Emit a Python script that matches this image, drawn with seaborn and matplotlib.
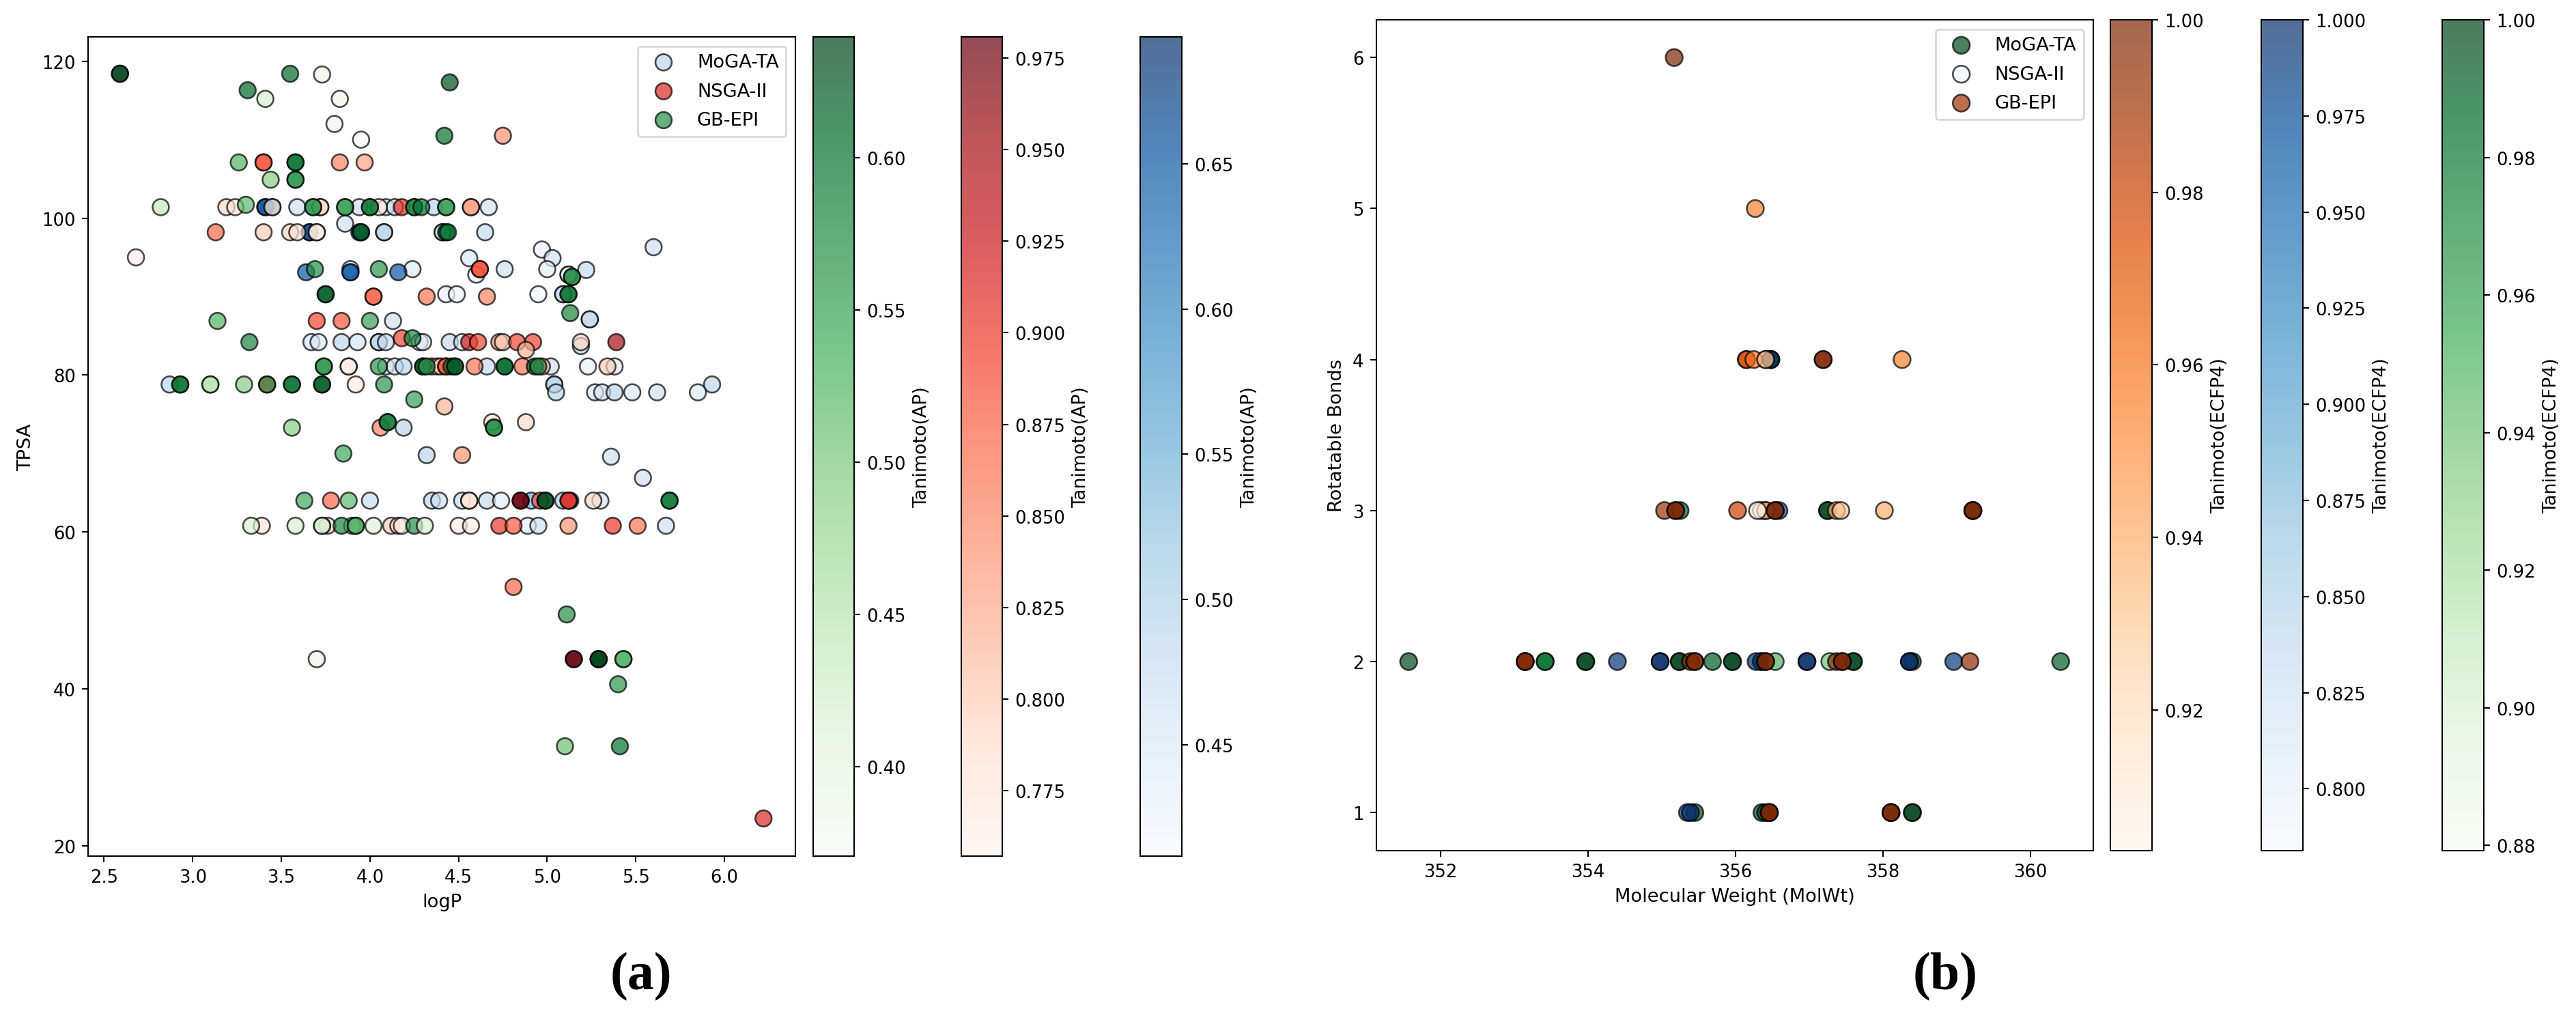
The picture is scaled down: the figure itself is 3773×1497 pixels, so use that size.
import matplotlib
matplotlib.use("Agg")
import matplotlib.pyplot as plt
import seaborn as sns
import pandas as pd

# panel (a): logP vs TPSA, colour = Tanimoto(AP)
moga_a_x = [2.87,
            3.41, 3.41, 3.45, 3.59, 3.94, 4.09, 4.14, 4.36, 4.67,
            3.86,
            3.66, 3.66, 3.94, 4.08, 4.08, 4.41, 4.41, 4.65,
            5.60, 4.97, 5.03, 4.56,
            3.89, 4.24, 4.76, 5.00, 5.22,
            3.64, 3.89, 3.89, 4.16,
            4.60, 5.12, 5.12,
            4.43, 4.49, 4.95, 5.09, 5.09,
            5.24, 5.24, 4.13,
            3.67, 3.71, 3.84, 3.93, 4.05, 4.05, 4.09, 4.28, 4.30, 4.45, 4.52,
            5.19,
            4.09, 4.14, 4.19, 4.66, 5.02, 5.23, 5.38,
            5.04, 5.04, 5.93,
            5.05, 5.27, 5.31, 5.38, 5.48, 5.62, 5.85,
            4.19, 4.32, 5.36, 5.54,
            4.00, 4.35, 4.39, 4.52, 4.66, 4.74, 4.91, 5.09, 5.13, 5.30,
            4.89, 4.95, 5.67]
moga_a_y = [78.8,
            101.4, 101.4, 101.4, 101.4, 101.4, 101.4, 101.4, 101.4, 101.4,
            99.3,
            98.2, 98.2, 98.2, 98.2, 98.2, 98.2, 98.2, 98.2,
            96.3, 96.0, 94.9, 94.9,
            93.5, 93.5, 93.5, 93.5, 93.4,
            93.1, 93.1, 93.1, 93.1,
            92.8, 92.8, 92.8,
            90.3, 90.3, 90.3, 90.3, 90.3,
            87.1, 87.1, 86.9,
            84.2, 84.2, 84.2, 84.2, 84.2, 84.2, 84.2, 84.2, 84.2, 84.2, 84.2,
            83.7,
            81.1, 81.1, 81.1, 81.1, 81.1, 81.1, 81.1,
            78.8, 78.8, 78.8,
            77.8, 77.8, 77.8, 77.8, 77.8, 77.8, 77.8,
            73.3, 69.8, 69.6, 66.9,
            64.0, 64.0, 64.0, 64.0, 64.0, 64.0, 64.0, 64.0, 64.0, 64.0,
            60.8, 60.8, 60.8]
moga_a_c = [.49,
            .66, .66, .62, .47, .47, .46, .47, .49, .46,
            .47,
            .67, .67, .63, .49, .49, .48, .48, .48,
            .47, .43, .46, .45,
            .47, .45, .47, .44, .48,
            .65, .64, .64, .65,
            .43, .43, .43,
            .43, .42, .42, .48, .48,
            .48, .48, .47,
            .46, .45, .49, .46, .49, .49, .48, .45, .45, .48, .47,
            .50,
            .46, .46, .49, .48, .47, .43, .44,
            .49, .49, .49,
            .49, .45, .46, .49, .45, .47, .45,
            .49, .49, .47, .47,
            .48, .49, .47, .48, .48, .44, .55, .50, .66, .46,
            .44, .47, .47]

nsga_a_x = [6.22,
            4.75, 3.40, 3.40, 3.83, 3.97,
            3.19, 3.24, 3.45, 3.72, 3.72, 4.05, 4.18, 4.57, 4.57,
            3.13, 3.40, 3.55, 3.59, 3.70, 3.70,
            2.68, 4.62, 4.62,
            4.02, 4.02, 4.32, 4.66,
            3.70, 3.84,
            4.18, 4.56, 4.61, 4.73, 4.75, 4.83, 4.92, 5.19, 5.39,
            4.88,
            3.88, 3.88, 4.35, 4.38, 4.40, 4.43, 4.43, 4.59, 4.86, 4.97, 5.34,
            3.42, 3.92,
            4.42, 4.69, 4.88, 4.06, 4.52,
            3.78, 4.56, 4.56, 4.85, 4.85, 4.96, 5.12, 5.12, 5.26,
            3.39, 3.76, 3.90, 4.12, 4.16, 4.18,
            4.50, 4.57, 4.73, 4.81, 5.12, 5.37, 5.51,
            4.81, 5.15, 5.15]
nsga_a_y = [23.5,
            110.5, 107.1, 107.1, 107.1, 107.1,
            101.4, 101.4, 101.4, 101.4, 101.4, 101.4, 101.4, 101.4, 101.4,
            98.2, 98.2, 98.2, 98.2, 98.2, 98.2,
            95.0, 93.5, 93.5,
            90.0, 90.0, 90.0, 90.0,
            86.9, 86.9,
            84.7, 84.2, 84.2, 84.2, 84.2, 84.2, 84.2, 84.2, 84.2,
            83.2,
            81.1, 81.1, 81.1, 81.1, 81.1, 81.1, 81.1, 81.1, 81.1, 81.1, 81.1,
            78.8, 78.8,
            76.0, 74.0, 74.0, 73.3, 69.8,
            64.0, 64.0, 64.0, 64.0, 64.0, 64.0, 64.0, 64.0, 64.0,
            60.8, 60.8, 60.8, 60.8, 60.8, 60.8,
            60.8, 60.8, 60.8, 60.8, 60.8, 60.8, 60.8,
            53.0, 43.8, 43.8]
nsga_a_c = [.91,
            .84, .88, .88, .85, .83,
            .79, .78, .78, .79, .79, .78, .91, .83, .83,
            .87, .80, .79, .78, .77, .77,
            .76, .90, .88,
            .87, .87, .86, .85,
            .89, .88,
            .89, .92, .89, .83, .80, .89, .89, .79, .95,
            .82,
            .77, .77, .80, .79, .81, .88, .88, .86, .86, .82, .80,
            .90, .77,
            .82, .78, .79, .85, .84,
            .87, .78, .78, .98, .98, .88, .90, .90, .79,
            .78, .79, .78, .80, .78, .77,
            .77, .77, .90, .88, .84, .90, .86,
            .87, .98, .98]

gb_a_x = [5.11,
          2.59, 2.59, 3.31, 3.41, 3.55, 3.73, 3.83, 3.80, 3.95, 4.45, 4.42,
          3.26, 3.58, 3.58, 3.44, 3.58, 3.58,
          2.82, 3.30, 3.68, 3.68, 3.86, 3.86, 4.00, 4.00, 4.25, 4.25, 4.29, 4.43, 4.43,
          3.95, 3.95, 4.43, 4.44,
          3.69, 4.05,
          3.75, 3.75, 5.12, 5.12, 5.14, 5.14,
          5.13, 3.14, 4.00, 3.32, 4.24,
          3.74, 3.74, 4.05, 4.30, 4.30, 4.32, 4.46, 4.48, 4.48, 4.76, 4.76, 4.93, 4.95,
          2.93, 2.93, 3.10, 3.10, 3.29, 3.42, 3.56, 3.56, 3.73, 3.73, 4.08,
          4.25, 4.70, 4.70, 3.56, 4.10, 4.10, 3.85,
          3.63, 3.88, 4.99, 4.99, 5.69, 5.69,
          3.33, 3.58, 3.73, 3.73, 3.84, 3.92, 3.92, 4.02, 4.25, 4.31,
          5.29, 5.29, 5.29, 5.43, 5.43, 5.40, 3.70, 5.10, 5.41]
gb_a_y = [49.5,
          118.4, 118.4, 116.3, 115.2, 118.4, 118.3, 115.2, 112.0, 110.0, 117.3, 110.5,
          107.1, 107.1, 107.1, 104.9, 104.9, 104.9,
          101.4, 101.7, 101.4, 101.4, 101.4, 101.4, 101.4, 101.4, 101.4, 101.4, 101.4, 101.4, 101.4,
          98.2, 98.2, 98.2, 98.2,
          93.5, 93.5,
          90.3, 90.3, 90.3, 90.3, 92.5, 92.5,
          87.9, 86.9, 86.9, 84.2, 84.7,
          81.1, 81.1, 81.1, 81.1, 81.1, 81.1, 81.1, 81.1, 81.1, 81.1, 81.1, 81.1, 81.1,
          78.8, 78.8, 78.8, 78.8, 78.8, 78.8, 78.8, 78.8, 78.8, 78.8, 78.8,
          76.9, 73.3, 73.3, 73.3, 74.0, 74.0, 70.0,
          64.0, 64.0, 64.0, 64.0, 64.0, 64.0,
          60.8, 60.8, 60.8, 60.8, 60.8, 60.8, 60.8, 60.8, 60.8, 60.8,
          43.8, 43.8, 43.8, 43.8, 43.8, 40.6, 43.8, 32.7, 32.7]
gb_a_c = [.57,
          .64, .64, .61, .42, .61, .39, .39, .385, .375, .63, .60,
          .53, .60, .60, .49, .56, .56,
          .44, .52, .56, .56, .55, .55, .59, .59, .58, .58, .60, .55, .55,
          .62, .62, .61, .60,
          .57, .56,
          .62, .62, .58, .60, .57, .57,
          .58, .53, .55, .58, .58,
          .56, .56, .56, .62, .62, .56, .60, .62, .62, .61, .61, .63, .57,
          .60, .60, .45, .45, .49, .57, .60, .60, .62, .62, .56,
          .55, .57, .57, .49, .59, .59, .54,
          .54, .52, .63, .63, .58, .60,
          .42, .42, .42, .42, .58, .53, .53, .41, .57, .42,
          .64, .64, .64, .53, .53, .56, .39, .51, .60]

# panel (b): MolWt vs rotatable bonds, colour = Tanimoto(ECFP4)
moga_b_x = [351.57, 356.48, 356.48, 355.25, 357.25, 357.25, 359.22,
            353.42, 353.42, 353.97, 353.97, 355.24, 355.24, 355.69, 355.96, 355.96,
            356.35, 356.35, 356.54, 357.28, 357.60, 357.60, 358.40, 360.41,
            355.45, 356.36, 356.41, 358.11, 358.40, 358.40, 356.41]
moga_b_y = [2, 4, 4, 3, 3, 3, 3,
            2, 2, 2, 2, 2, 2, 2, 2, 2,
            2, 2, 2, 2, 2, 2, 2, 2,
            1, 1, 1, 1, 1, 1, 3]
moga_b_c = [.998, 1.0, 1.0, .99, 1.0, 1.0, 1.0,
            .985, .985, 1.0, 1.0, 1.0, 1.0, .99, 1.0, 1.0,
            1.0, 1.0, .95, .94, 1.0, 1.0, 1.0, .99,
            .995, .99, 1.0, 1.0, 1.0, 1.0, .88]

nsga_b_x = [356.41, 356.48, 356.59,
            354.40, 354.98, 354.98, 356.28, 356.97, 356.97,
            358.36, 358.36, 358.96,
            355.35, 355.39]
nsga_b_y = [4, 4, 3,
            2, 2, 2, 2, 2, 2,
            2, 2, 2,
            1, 1]
nsga_b_c = [.79, 1.0, .97,
            .995, 1.0, 1.0, 1.0, 1.0, 1.0,
            1.0, 1.0, .99,
            .99, 1.0]

gb_b_x = [355.04, 355.17, 356.27,
          356.15, 356.15, 356.25, 356.41, 357.19, 357.19, 358.26,
          355.19, 355.19, 356.03, 356.35, 356.41, 356.54, 356.54,
          357.37, 357.43, 358.02, 359.22, 359.22,
          353.15, 353.15, 353.15, 355.39, 355.45, 355.45,
          356.41, 356.41, 357.37, 357.45, 357.45, 359.18,
          356.46, 356.46, 356.46, 358.11, 358.11, 356.30]
gb_b_y = [3, 6, 5,
          4, 4, 4, 4, 4, 4, 4,
          3, 3, 3, 3, 3, 3, 3,
          3, 3, 3, 3, 3,
          2, 2, 2, 2, 2, 2,
          2, 2, 2, 2, 2, 2,
          1, 1, 1, 1, 1, 3]
gb_b_c = [.99, 1.0, .955,
          .975, .975, .96, .935, 1.0, 1.0, .955,
          1.0, 1.0, .98, .94, .935, 1.0, 1.0,
          .94, .93, .94, 1.0, 1.0,
          1.0, 1.0, 1.0, 1.0, 1.0, 1.0,
          1.0, 1.0, 1.0, 1.0, 1.0, .995,
          1.0, 1.0, 1.0, 1.0, 1.0, .904]

a_xticks = [2.5, 3.0, 3.5, 4.0, 4.5, 5.0, 5.5, 6.0]
a_yticks = [20, 40, 60, 80, 100, 120]
b_xticks = [352, 354, 356, 358, 360]
b_yticks = [1, 2, 3, 4, 5, 6]

W, H = 3773, 1498
DPI = 186.5


def place(fig, left, right, top, bottom):
    # axes rectangle given in pixels of the final image
    return fig.add_axes([left / W, 1 - bottom / H, (right - left) / W, (bottom - top) / H])


def draw(ax, cax, x, y, c, cmap, vmin, vmax, name, cbar_label, ticks, fmt, size):
    df = pd.DataFrame({"x": x, "y": y, "tan": c})
    sns.scatterplot(data=df, x="x", y="y", c=df["tan"], cmap=cmap, vmin=vmin, vmax=vmax,
                    s=size, alpha=0.7, edgecolor="k", linewidth=1, label=name, ax=ax)
    cb = plt.colorbar(ax.collections[-1], cax=cax)
    cb.set_label(cbar_label, fontsize=10.4)
    cb.set_ticks(ticks, labels=[fmt % t for t in ticks])


fig = plt.figure(figsize=(W / DPI, H / DPI), dpi=DPI)

# (a)
ax1 = place(fig, 129, 1165, 55, 1255)
draw(ax1, place(fig, 1669.5, 1731, 55, 1255), moga_a_x, moga_a_y, moga_a_c, "Blues", .4116, .6937,
     "MoGA-TA", "Tanimoto(AP)", [.45, .50, .55, .60, .65], "%.2f", 85)
draw(ax1, place(fig, 1407.5, 1468, 55, 1255), nsga_a_x, nsga_a_y, nsga_a_c, "Reds", .7572, .9807,
     "NSGA-II", "Tanimoto(AP)", [.775, .80, .825, .85, .875, .90, .925, .95, .975], "%.3f", 85)
draw(ax1, place(fig, 1190.5, 1251, 55, 1255), gb_a_x, gb_a_y, gb_a_c, "Greens", .3707, .6398,
     "GB-EPI", "Tanimoto(AP)", [.40, .45, .50, .55, .60], "%.2f", 85)
ax1.set_xlim(2.41, 6.40)
ax1.set_ylim(18.7, 123.1)
ax1.set_xticks(a_xticks)
ax1.set_yticks(a_yticks)
ax1.set_xlabel("logP", fontsize=10.5)
ax1.set_ylabel("TPSA", fontsize=10.5)
ax1.legend(loc="upper right", fontsize=10.5, labelspacing=0.6)

# (b)
ax2 = place(fig, 2015.7, 3065.7, 30, 1246.5)
draw(ax2, place(fig, 3576.7, 3638, 30, 1246.5), moga_b_x, moga_b_y, moga_b_c, "Greens", .8793, 1.0,
     "MoGA-TA", "Tanimoto(ECFP4)", [.88, .90, .92, .94, .96, .98, 1.0], "%.2f", 92)
draw(ax2, place(fig, 3311.6, 3372.9, 30, 1246.5), nsga_b_x, nsga_b_y, nsga_b_c, "Blues", .784, 1.0,
     "NSGA-II", "Tanimoto(ECFP4)", [.80, .825, .85, .875, .90, .925, .95, .975, 1.0], "%.3f", 92)
draw(ax2, place(fig, 3091.4, 3152, 30, 1246.5), gb_b_x, gb_b_y, gb_b_c, "Oranges", .9037, 1.0,
     "GB-EPI", "Tanimoto(ECFP4)", [.92, .94, .96, .98, 1.0], "%.2f", 92)
ax2.set_xlim(351.13, 360.85)
ax2.set_ylim(0.75, 6.25)
ax2.set_xticks(b_xticks)
ax2.set_yticks(b_yticks)
ax2.set_xlabel("Molecular Weight (MolWt)", fontsize=10.5)
ax2.set_ylabel("Rotatable Bonds", fontsize=10.5)
ax2.legend(loc="upper right", fontsize=10.5, labelspacing=0.6)

# panel captions
fig.text(939 / W, 1 - 1431 / H, "(a)", family="Liberation Serif", fontsize=30, fontweight="bold", ha="center", va="center")
fig.text(2849 / W, 1 - 1431 / H, "(b)", family="Liberation Serif", fontsize=30, fontweight="bold", ha="center", va="center")

fig.savefig("out.png", dpi=DPI)
